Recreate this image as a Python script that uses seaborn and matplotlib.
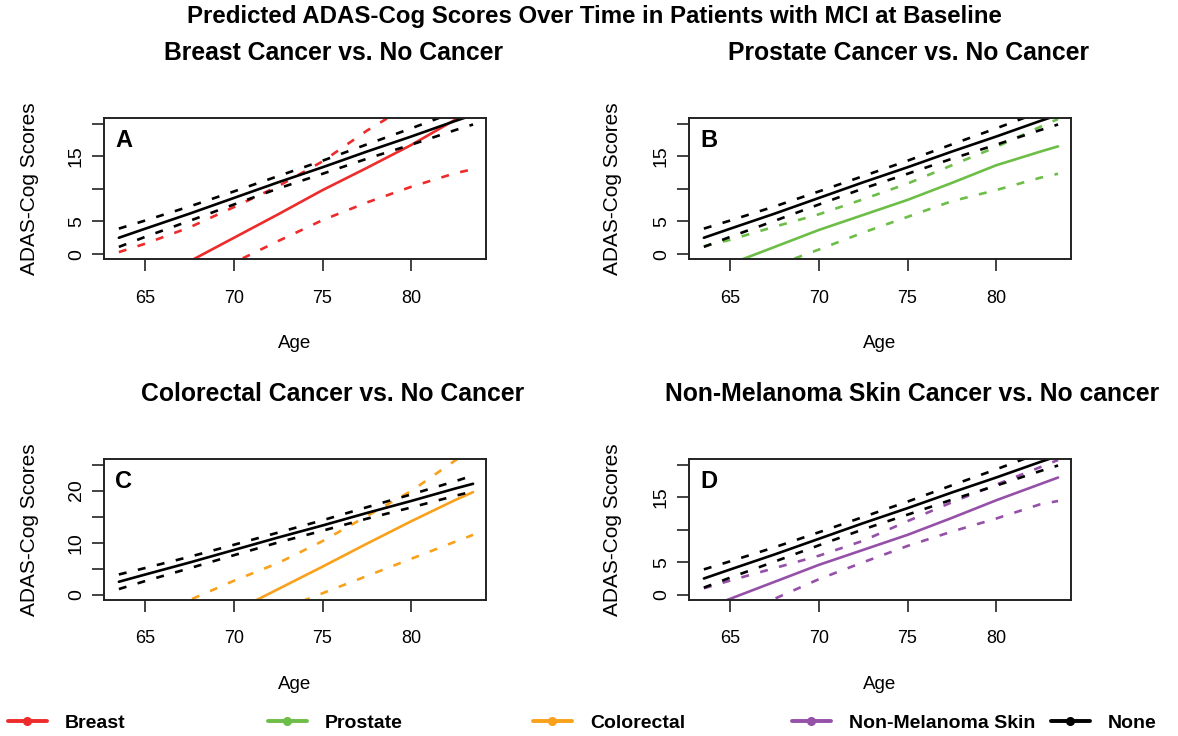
import numpy as np
import pandas as pd
import seaborn as sns
import matplotlib
matplotlib.use("Agg")
import matplotlib.pyplot as plt
from matplotlib.lines import Line2D
from matplotlib import font_manager

# ---------------- data ----------------
ages = [63.5, 65, 67.5, 70, 72.5, 75, 77.5, 80, 82.5, 83.5]

none_mean = [2.5, 3.9, 6.2, 8.6, 11.0, 13.3, 15.7, 18.0, 20.4, 21.3]
none_lo = [1.1, 2.65, 5.1, 7.6, 10.05, 12.3, 14.6, 16.75, 19.0, 19.85]
none_hi = [3.9, 5.15, 7.3, 9.6, 11.95, 14.3, 16.8, 19.25, 21.8, 22.9]

breast_mean = [-8.0, -5.4, -1.1, 2.5, 6.1, 9.8, 13.2, 16.7, 20.6, 22.2]
breast_lo = [-9.5, -7.5, -4.5, -1.3, 2.0, 5.2, 7.9, 10.3, 12.4, 13.0]
breast_hi = [0.3, 1.6, 4.1, 7.2, 10.4, 14.2, 18.9, 23.0, 27.0, 28.5]

prostate_mean = [-3.0, -1.5, 1.1, 3.7, 6.0, 8.3, 10.9, 13.6, 15.7, 16.5]
prostate_lo = [-6.2, -4.5, -1.8, 0.7, 3.3, 5.7, 8.1, 9.8, 11.7, 12.3]
prostate_hi = [1.2, 2.2, 4.2, 6.1, 8.4, 10.8, 13.6, 16.4, 19.5, 20.7]

colorectal_mean = [-12.5, -10.5, -7.0, -3.2, 1.1, 5.4, 9.8, 14.1, 18.2, 19.7]
colorectal_lo = [-14.0, -12.0, -8.8, -5.8, -3.0, 0.3, 3.6, 6.9, 10.2, 11.5]
colorectal_hi = [-6.0, -4.0, -1.0, 2.7, 6.1, 10.3, 15.1, 19.9, 25.8, 28.0]

skin_mean = [-2.2, -0.6, 2.0, 4.6, 6.9, 9.2, 11.8, 14.5, 17.0, 18.0]
skin_lo = [-5.3, -3.5, -0.6, 2.4, 5.0, 7.5, 9.7, 11.7, 13.9, 14.4]
skin_hi = [1.0, 2.2, 4.1, 6.0, 8.3, 11.3, 14.2, 16.9, 19.6, 20.7]

legend_labels = ["Breast", "Prostate", "Colorectal", "Non-Melanoma Skin", "None"]
panel_titles = ["Breast Cancer vs. No Cancer", "Prostate Cancer vs. No Cancer",
                "Colorectal Cancer vs. No Cancer", "Non-Melanoma Skin Cancer vs. No cancer"]
panel_letters = ["A", "B", "C", "D"]
x_ticks = [65, 70, 75, 80]
y_ticks_20 = [0, 5, 10, 15, 20]
y_labels_20 = ["0", "5", "", "15", ""]
y_ticks_25 = [0, 5, 10, 15, 20, 25]
y_labels_25 = ["0", "", "10", "", "20", ""]

# ---------------- style ----------------
sns.set_theme(style="ticks")
names = {f.name for f in font_manager.fontManager.ttflist}
REG = "Liberation Sans" if "Liberation Sans" in names else "DejaVu Sans"
NARROW = "Liberation Sans Narrow" if "Liberation Sans Narrow" in names else REG
narrow_ok = NARROW != REG
plt.rcParams["font.family"] = [REG, "DejaVu Sans"]
for k in ["text.color", "axes.labelcolor", "xtick.color", "ytick.color", "axes.edgecolor"]:
    plt.rcParams[k] = "black"

colors = {"Breast": "#EE2B2B", "Prostate": "#6CBE47", "Colorectal": "#F9A11B",
          "Non-Melanoma Skin": "#9550A8", "None": "#000000"}

W, H = 1178, 736
fig = plt.figure(figsize=(W / 100, H / 100), dpi=100)

boxes = [(104, 118.3, 486, 259.3), (689, 118.3, 1071, 259.3),
         (104, 459.3, 486, 600.0), (689, 459.3, 1071, 600.0)]

groups = [("Breast", breast_mean, breast_lo, breast_hi),
          ("Prostate", prostate_mean, prostate_lo, prostate_hi),
          ("Colorectal", colorectal_mean, colorectal_lo, colorectal_hi),
          ("Non-Melanoma Skin", skin_mean, skin_lo, skin_hi)]

title_pos = [(333, 60), (909, 60), (333, 401), (912, 401)]

LW = 1.9
DASH = (0, (3.0, 4.4))

for i, (l, t, r, b) in enumerate(boxes):
    ax = fig.add_axes([l / W, 1 - b / H, (r - l) / W, (b - t) / H])
    name, m, lo, hi = groups[i]
    df = pd.DataFrame({"Age": ages, "mean": m, "lo": lo, "hi": hi,
                       "nmean": none_mean, "nlo": none_lo, "nhi": none_hi})
    c = colors[name]
    sns.lineplot(data=df, x="Age", y="hi", ax=ax, color=c, lw=LW, linestyle=DASH, sort=False)
    sns.lineplot(data=df, x="Age", y="lo", ax=ax, color=c, lw=LW, linestyle=DASH, sort=False)
    sns.lineplot(data=df, x="Age", y="mean", ax=ax, color=c, lw=LW, sort=False)
    sns.lineplot(data=df, x="Age", y="nhi", ax=ax, color="black", lw=LW, linestyle=DASH, sort=False)
    sns.lineplot(data=df, x="Age", y="nlo", ax=ax, color="black", lw=LW, linestyle=DASH, sort=False)
    sns.lineplot(data=df, x="Age", y="nmean", ax=ax, color="black", lw=LW, sort=False)

    ax.set_xlim(62.66, 84.23)
    if i == 2:
        ax.set_ylim(-1.0, 26.0)
        ax.set_yticks(y_ticks_25)
        ax.set_yticklabels(y_labels_25)
    else:
        ax.set_ylim(-0.8, 20.8)
        ax.set_yticks(y_ticks_20)
        ax.set_yticklabels(y_labels_20)
    ax.set_xticks(x_ticks)
    ax.set_xticklabels([str(v) for v in x_ticks])

    for s in ax.spines.values():
        s.set_visible(True)
        s.set_color("#222222")
        s.set_linewidth(1.4)
    ax.tick_params(axis="both", direction="out", length=8.8, width=1.2,
                   color="#222222", labelcolor="black")
    ax.tick_params(axis="x", pad=13, labelsize=14.5 if narrow_ok else 13)
    ax.tick_params(axis="y", pad=5, labelsize=14)
    for lab in ax.get_xticklabels():
        lab.set_family(NARROW)
    for lab in ax.get_yticklabels():
        lab.set_rotation(90)
        lab.set_va("center")
        lab.set_ha("right")

    ax.set_xlabel("Age", fontsize=15 if narrow_ok else 13.5, family=NARROW,
                  va="baseline", color="black")
    ax.xaxis.set_label_coords(0.5, -89.0 / (b - t))
    ax.set_ylabel("ADAS-Cog Scores", fontsize=15, family=REG, va="center", color="black")
    ax.yaxis.set_label_coords(-0.194 if l < 500 else -0.199, 0.5)

    ax.text(11.0 / (r - l), (b - t - 29) / (b - t), panel_letters[i],
            transform=ax.transAxes, fontsize=17, fontweight="bold",
            va="baseline", ha="left", color="black")

    tx, ty = title_pos[i]
    fig.text(tx / W, 1 - ty / H, panel_titles[i], ha="center", va="baseline",
             fontsize=17.8, fontweight="bold", color="black")

fig.text(594 / W, 1 - 23 / H, "Predicted ADAS-Cog Scores Over Time in Patients with MCI at Baseline",
         ha="center", va="baseline", fontsize=17.3, fontweight="bold", color="black")

# legend: one entry per horizontal slot
leg_x = [8, 268, 533, 792, 1051]
for lab, x in zip(legend_labels, leg_x):
    h = Line2D([], [], color=colors[lab], lw=2.8, marker="o", markersize=5.5)
    lg = fig.legend(handles=[h], labels=[lab], loc="center left",
                    bbox_to_anchor=(x / W, 1 - 723 / H), frameon=False, borderpad=0,
                    borderaxespad=0, handlelength=2.0, handletextpad=0.93,
                    prop={"family": REG, "weight": "bold", "size": 14})
    for txt in lg.get_texts():
        txt.set_color("black")

fig.savefig("out.png", dpi=100, facecolor="white")
